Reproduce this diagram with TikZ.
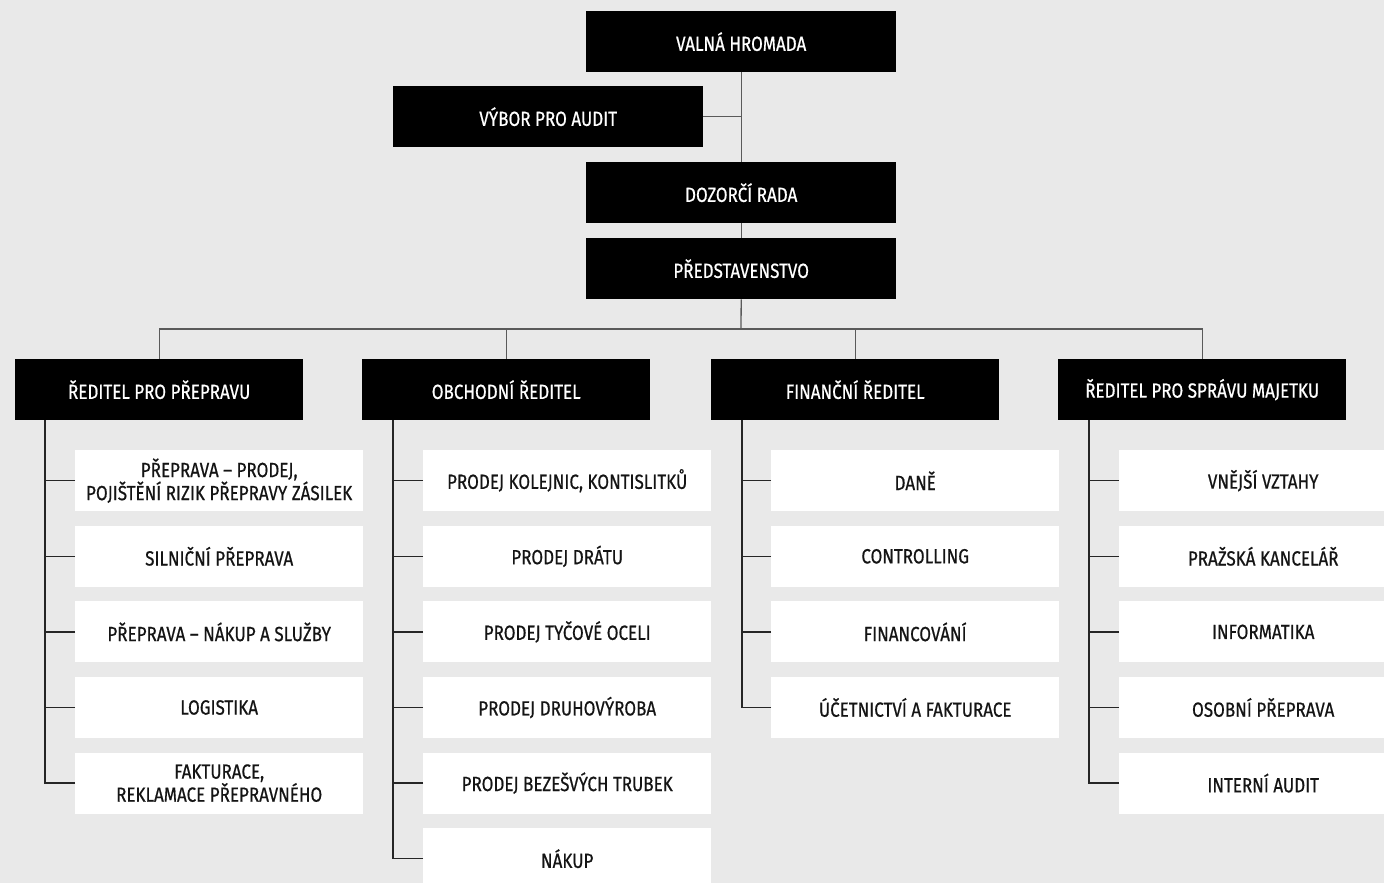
\documentclass[tikz,border=0pt]{standalone}
\usepackage{fontspec}
\setmainfont[FakeStretch=0.83,FakeBold=0.6]{Fira Sans}
\definecolor{bggray}{HTML}{E9E9E9}
\definecolor{linegray}{HTML}{5A5A5A}
\begin{document}
\begin{tikzpicture}[x=1pt,y=-1pt,
    darkbox/.style={fill=black,text=white,minimum width=288pt,minimum height=61pt,
      inner sep=0pt,anchor=north west,align=center,font=\fontsize{20.5}{20}\selectfont},
    widebox/.style={darkbox,minimum width=310pt},
    unitbox/.style={darkbox,fill=white,text=black!92},
    topline/.style={draw=linegray,line width=1.3pt},
    unitline/.style={draw=black!85,line width=1.3pt}]
    \useasboundingbox (0,0) rectangle (1384,883);
    \clip (0,0) rectangle (1384,883);
    \fill[bggray] (0,0) rectangle (1384,883);

    % top of the company
    \node[widebox] (vh) at (586,11) {VALNÁ HROMADA};
    \node[widebox] (vpa) at (393,86) {VÝBOR PRO AUDIT};
    \node[widebox] (dr) at (586,162) {DOZORČÍ RADA};
    \node[widebox] (pr) at (586,238) {PŘEDSTAVENSTVO};
    \coordinate (bus) at (741,329);

    \draw[topline] (vh) -- (dr);
    \draw[topline] (vpa.east) -- (vpa.east -| vh.south);
    \draw[topline] (dr) -- (pr);
    \draw[topline] (pr.south) -- (bus);

    % directors
    \node[darkbox] (d1) at (15,359) {ŘEDITEL PRO PŘEPRAVU};
    \node[darkbox] (d2) at (362,359) {OBCHODNÍ ŘEDITEL};
    \node[darkbox] (d3) at (711,359) {FINANČNÍ ŘEDITEL};
    \node[darkbox] (d4) at (1058,359) {ŘEDITEL PRO SPRÁVU MAJETKU};
    \foreach \d in {d1,d2,d3,d4}
        \draw[topline] (\d.north) |- (bus);

    \coordinate (s1) at (45,420);
    \coordinate (s2) at (393,420);
    \coordinate (s3) at (742,420);
    \coordinate (s4) at (1089,420);

    % transport
    \node[unitbox] (u11) at (75,450) {PŘEPRAVA – PRODEJ,\\POJIŠTĚNÍ RIZIK PŘEPRAVY ZÁSILEK};
    \node[unitbox] (u12) at (75,525.6) {SILNIČNÍ PŘEPRAVA};
    \node[unitbox] (u13) at (75,601.2) {PŘEPRAVA – NÁKUP A SLUŽBY};
    \node[unitbox] (u14) at (75,676.8) {LOGISTIKA};
    \node[unitbox] (u15) at (75,752.4) {FAKTURACE,\\REKLAMACE PŘEPRAVNÉHO};
    \foreach \u in {u11,u12,u13,u14,u15}
        \draw[unitline] (\u.west) -| (s1);

    % sales
    \node[unitbox] (u21) at (423,450) {PRODEJ KOLEJNIC, KONTISLITKŮ};
    \node[unitbox] (u22) at (423,525.6) {PRODEJ DRÁTU};
    \node[unitbox] (u23) at (423,601.2) {PRODEJ TYČOVÉ OCELI};
    \node[unitbox] (u24) at (423,676.8) {PRODEJ DRUHOVÝROBA};
    \node[unitbox] (u25) at (423,752.4) {PRODEJ BEZEŠVÝCH TRUBEK};
    \node[unitbox] (u26) at (423,828) {NÁKUP};
    \foreach \u in {u21,u22,u23,u24,u25,u26}
        \draw[unitline] (\u.west) -| (s2);

    % finance
    \node[unitbox] (u31) at (771,450) {DANĚ};
    \node[unitbox] (u32) at (771,525.6) {CONTROLLING};
    \node[unitbox] (u33) at (771,601.2) {FINANCOVÁNÍ};
    \node[unitbox] (u34) at (771,676.8) {ÚČETNICTVÍ A FAKTURACE};
    \foreach \u in {u31,u32,u33,u34}
        \draw[unitline] (\u.west) -| (s3);

    % property
    \node[unitbox] (u41) at (1119,450) {VNĚJŠÍ VZTAHY};
    \node[unitbox] (u42) at (1119,525.6) {PRAŽSKÁ KANCELÁŘ};
    \node[unitbox] (u43) at (1119,601.2) {INFORMATIKA};
    \node[unitbox] (u44) at (1119,676.8) {OSOBNÍ PŘEPRAVA};
    \node[unitbox] (u45) at (1119,752.4) {INTERNÍ AUDIT};
    \foreach \u in {u41,u42,u43,u44,u45}
        \draw[unitline] (\u.west) -| (s4);
\end{tikzpicture}
\end{document}
